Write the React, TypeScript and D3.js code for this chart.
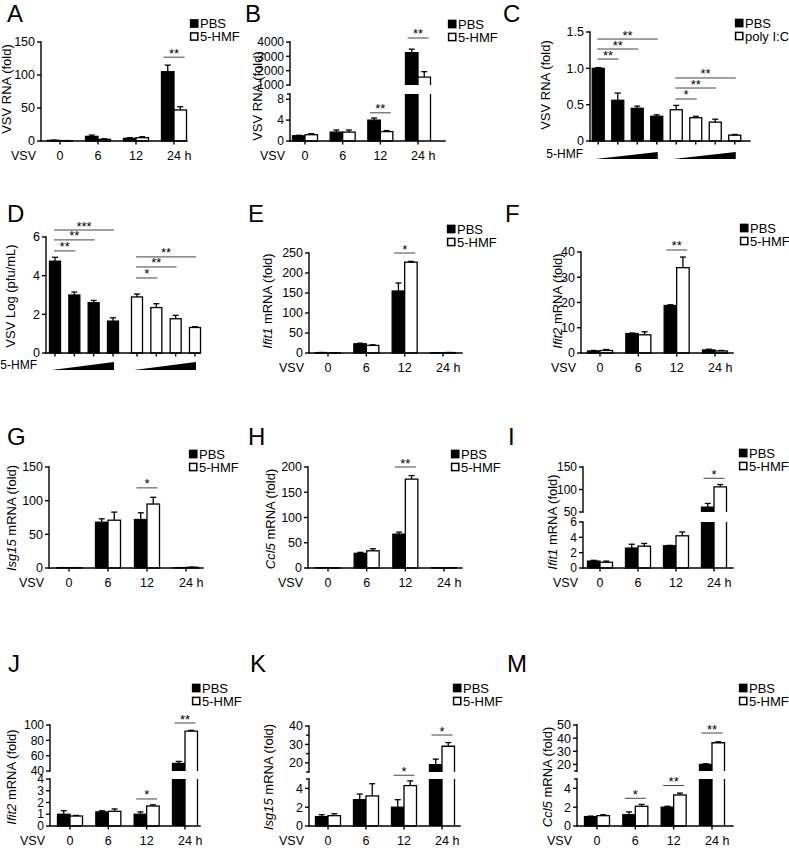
import React from "react";
import * as d3 from "d3";

// ---------------- DATA ----------------
const timeCategories = ["0", "6", "12", "24 h"];
const timeSeries = ["PBS", "5-HMF"];
const doseGroups = ["PBS", "poly I:C"];
const doseLevels = ["1", "2", "3", "4"];

// A  VSV RNA
const aPBS = [1.0, 7.0, 4.0, 105];
const aPBSErr = [0.3, 2.0, 1.0, 10];
const aHMF = [0.5, 2.5, 5.0, 47];
const aHMFErr = [0.2, 0.8, 1.5, 5];
const aTicks = [0, 50, 100, 150];

// B  VSV RNA (broken axis)
const bPBS = [1.0, 1.7, 4.0, 3250];
const bPBSErr = [0.1, 0.4, 0.4, 250];
const bHMF = [1.2, 1.7, 1.8, 1550];
const bHMFErr = [0.2, 0.4, 0.2, 380];
const bTicksLow = [0, 4, 8];
const bTicksHigh = [1000, 2000, 3000, 4000];

// C  VSV RNA dose
const cPBS = [1.0, 0.56, 0.45, 0.34];
const cPBSErr = [0.01, 0.1, 0.03, 0.02];
const cPoly = [0.43, 0.32, 0.26, 0.08];
const cPolyErr = [0.06, 0.02, 0.04, 0.01];
const cTicks = [0, 0.5, 1.0, 1.5];

// D  VSV titer dose
const dPBS = [4.75, 3.0, 2.6, 1.65];
const dPBSErr = [0.2, 0.15, 0.12, 0.17];
const dPoly = [2.9, 2.35, 1.77, 1.32];
const dPolyErr = [0.15, 0.2, 0.18, 0.04];
const dTicks = [0, 2, 4, 6];

// E  Ifit1
const ePBS = [1.0, 23, 155, 0.5];
const ePBSErr = [0.3, 1.5, 20, 0.2];
const eHMF = [0.3, 19, 227, 1.0];
const eHMFErr = [0.1, 1.5, 2, 0.3];
const eTicks = [0, 50, 100, 150, 200, 250];

// F  Ifit2
const fPBS = [0.8, 7.7, 18.8, 1.2];
const fPBSErr = [0.2, 0.2, 0.3, 0.3];
const fHMF = [1.0, 7.2, 33.8, 0.8];
const fHMFErr = [0.4, 1.2, 4.2, 0.2];
const fTicks = [0, 10, 20, 30, 40];

// G  Isg15
const gPBS = [0.5, 68, 72, 0.5];
const gPBSErr = [0.2, 5, 10, 0.2];
const gHMF = [0.5, 71, 95, 1.0];
const gHMFErr = [0.2, 12, 10, 0.3];
const gTicks = [0, 50, 100, 150];

// H  Ccl5
const hPBS = [0.5, 29, 67, 0.3];
const hPBSErr = [0.2, 2, 4, 0.1];
const hHMF = [0.2, 34, 176, 0.5];
const hHMFErr = [0.1, 4, 7, 0.2];
const hTicks = [0, 50, 100, 150, 200];

// I  Ifit1 (broken axis)
const iPBS = [0.9, 2.6, 2.9, 61];
const iPBSErr = [0.1, 0.5, 0.05, 8];
const iHMF = [0.75, 2.85, 4.2, 106];
const iHMFErr = [0.15, 0.35, 0.5, 5];
const iTicksLow = [0, 2, 4, 6];
const iTicksHigh = [50, 100, 150];

// J  Ifit2 (broken axis)
const jPBS = [1.0, 1.2, 1.0, 50];
const jPBSErr = [0.3, 0.1, 0.2, 2.5];
const jHMF = [0.85, 1.25, 1.7, 92];
const jHMFErr = [0.05, 0.2, 0.1, 1];
const jTicksLow = [0, 1, 2, 3, 4];
const jTicksHigh = [40, 60, 80, 100];

// K  Isg15 (broken axis)
const kPBS = [1.0, 2.8, 2.0, 19];
const kPBSErr = [0.2, 0.6, 0.8, 3];
const kHMF = [1.1, 3.2, 4.3, 29];
const kHMFErr = [0.2, 1.3, 0.5, 2];
const kTicksLow = [0, 2, 4];
const kTicksHigh = [20, 30, 40];

// M  Ccl5 (broken axis)
const mPBS = [1.0, 1.2, 2.0, 20];
const mPBSErr = [0.05, 0.3, 0.1, 0.5];
const mHMF = [1.1, 2.1, 3.3, 36.5];
const mHMFErr = [0.1, 0.2, 0.2, 0.7];
const mTicksLow = [0, 2, 4];
const mTicksHigh = [20, 30, 40, 50];

// ---------------- LAYOUT / RENDER ----------------
const FONT = "'Liberation Sans', Arial, Helvetica, sans-serif";
const AX = 1.4;

type Seg = {
  domain: [number, number];
  range: [number, number];
  ticks: number[];
  minor?: number[];
  fmt?: (v: number) => string;
};
type BarSpec = { x: number; w: number; v: number; e: number; black: boolean };
type SigSpec = { x1: number; x2: number; v: number; label: string };
type TitlePart = { t: string; i?: boolean };
type PanelCfg = {
  letter: string; lx: number; ly: number;
  x0: number; x1: number;
  segs: Seg[];
  tickFont: number;
  title: TitlePart[]; tx: number; ty: number;
  bars: BarSpec[];
  xTicks: number[];
  xLabels: { text: string; x: number }[];
  vsv: boolean;
  sigs: SigSpec[];
  legend?: { x: number; y: number; labels: string[] };
  wedges?: { xa: number; xb: number; base: number; h: number }[];
  wedgeLabel?: { x: number; y: number };
};

function yMapper(segs: Seg[]) {
  const scales = segs.map((s) => d3.scaleLinear().domain(s.domain).range(s.range));
  const idx = (v: number) =>
    segs.length === 1 || v <= segs[0].domain[1] || v < segs[1].domain[0] ? 0 : 1;
  return { scales, idx, y: (v: number) => scales[idx(v)](v) };
}

function timePanel(o: any): PanelCfg {
  const xs = d3.scalePoint<string>().domain(timeCategories).range([o.c0, o.c3]);
  const inner = d3.scalePoint<string>().domain(timeSeries).range([-o.bw / 2, o.bw / 2]);
  const bars: BarSpec[] = [];
  timeCategories.forEach((c, i) => {
    bars.push({ x: xs(c)! + inner("PBS")!, w: o.bw, v: o.pbs[i], e: o.pbsErr[i], black: true });
    bars.push({ x: xs(c)! + inner("5-HMF")!, w: o.bw, v: o.hmf[i], e: o.hmfErr[i], black: false });
  });
  return {
    letter: o.letter, lx: o.lx, ly: o.ly, x0: o.x0, x1: o.x1, segs: o.segs,
    tickFont: o.tickFont || 12.5,
    title: o.title, tx: o.tx, ty: o.ty, bars,
    xTicks: timeCategories.map((c) => xs(c)!),
    xLabels: timeCategories.map((c) => ({ text: c, x: xs(c)! })),
    vsv: true,
    sigs: o.sigs.map((s: any) => ({ x1: xs(s.cat)! - 10.5, x2: xs(s.cat)! + 10.5, v: s.v, label: s.label })),
    legend: { x: o.legend[0], y: o.legend[1], labels: timeSeries },
  };
}

function dosePanel(o: any): PanelCfg {
  const gx = d3.scalePoint<string>().domain(doseGroups).range(o.groups);
  const lx = d3.scalePoint<string>().domain(doseLevels).range([-o.half, o.half]);
  const cx = (g: string, l: number) => gx(g)! + lx(doseLevels[l])!;
  const bars: BarSpec[] = [];
  const xTicks: number[] = [];
  doseGroups.forEach((g, gi) => {
    doseLevels.forEach((l, li) => {
      const vals = gi === 0 ? o.pbs : o.poly;
      const errs = gi === 0 ? o.pbsErr : o.polyErr;
      bars.push({ x: cx(g, li), w: o.bw, v: vals[li], e: errs[li], black: gi === 0 });
      xTicks.push(cx(g, li));
    });
  });
  return {
    letter: o.letter, lx: o.lx, ly: o.ly, x0: o.x0, x1: o.x1, segs: o.segs,
    tickFont: o.tickFont || 12.5,
    title: o.title, tx: o.tx, ty: o.ty, bars, xTicks, xLabels: [], vsv: false,
    sigs: o.sigs.map((s: any) => ({ x1: cx(doseGroups[s.g], 0) - 1, x2: cx(doseGroups[s.g], s.to) + 1, v: s.v, label: s.label })),
    legend: o.legend ? { x: o.legend[0], y: o.legend[1], labels: doseGroups } : undefined,
    wedges: doseGroups.map((g) => ({ xa: cx(g, 0) - 3, xb: cx(g, 3) + 1, base: o.wedgeBase, h: o.wedgeH })),
    wedgeLabel: { x: o.wlx, y: o.wly },
  };
}

const ttl = (gene: string | null, rest: string): TitlePart[] =>
  gene ? [{ t: gene, i: true }, { t: rest }] : [{ t: rest }];

function buildPanels(): PanelCfg[] {
  const fmt1 = (v: number) => (v === 0 ? "0" : v.toFixed(1));
  return [
    timePanel({
      letter: "A", lx: 7, ly: 22, x0: 41, x1: 187, c0: 60, c3: 174, bw: 12.5,
      segs: [{ domain: [0, 150], range: [141, 42], ticks: aTicks }],
      title: ttl(null, "VSV RNA (fold)"), tx: 11, ty: 89,
      pbs: aPBS, pbsErr: aPBSErr, hmf: aHMF, hmfErr: aHMFErr,
      sigs: [{ cat: "24 h", v: 127, label: "**" }], legend: [190, 23.5],
    }),
    timePanel({
      letter: "B", lx: 245, ly: 22, x0: 290, x1: 445, c0: 305, c3: 418, bw: 12.5, tickFont: 12,
      segs: [
        { domain: [0, 9], range: [141, 94], ticks: bTicksLow, minor: [9] },
        { domain: [1000, 4000], range: [85, 42], ticks: bTicksHigh },
      ],
      title: ttl(null, "VSV RNA (fold)"), tx: 262, ty: 96,
      pbs: bPBS, pbsErr: bPBSErr, hmf: bHMF, hmfErr: bHMFErr,
      sigs: [{ cat: "12", v: 5.4, label: "**" }, { cat: "24 h", v: 4280, label: "**" }],
      legend: [448, 24],
    }),
    dosePanel({
      letter: "C", lx: 503, ly: 22, x0: 590, x1: 750, groups: [627.5, 705.5], half: 29.25, bw: 12,
      segs: [{ domain: [0, 1.5], range: [141, 32], ticks: cTicks, fmt: fmt1 }],
      title: ttl(null, "VSV RNA (fold)"), tx: 550, ty: 85,
      pbs: cPBS, pbsErr: cPBSErr, poly: cPoly, polyErr: cPolyErr,
      sigs: [
        { g: 0, to: 1, v: 1.128, label: "**" }, { g: 0, to: 2, v: 1.266, label: "**" }, { g: 0, to: 3, v: 1.403, label: "**" },
        { g: 1, to: 1, v: 0.578, label: "*" }, { g: 1, to: 2, v: 0.729, label: "**" }, { g: 1, to: 3, v: 0.867, label: "**" },
      ],
      legend: [735, 23], wedgeBase: 159, wedgeH: 7, wlx: 583, wly: 154,
    }),
    dosePanel({
      letter: "D", lx: 7, ly: 222, x0: 46, x1: 200, groups: [84, 166], half: 29, bw: 11,
      segs: [{ domain: [0, 6], range: [353, 237], ticks: dTicks }],
      title: ttl(null, "VSV Log (pfu/mL)"), tx: 15, ty: 296,
      pbs: dPBS, pbsErr: dPBSErr, poly: dPoly, polyErr: dPolyErr,
      sigs: [
        { g: 0, to: 1, v: 5.28, label: "**" }, { g: 0, to: 2, v: 5.85, label: "**" }, { g: 0, to: 3, v: 6.36, label: "***" },
        { g: 1, to: 1, v: 3.88, label: "*" }, { g: 1, to: 2, v: 4.45, label: "**" }, { g: 1, to: 3, v: 4.97, label: "**" },
      ],
      wedgeBase: 370, wedgeH: 8, wlx: 37, wly: 365,
    }),
    timePanel({
      letter: "E", lx: 248, ly: 222, x0: 309, x1: 462, c0: 328, c3: 443, bw: 12.5,
      segs: [{ domain: [0, 250], range: [353, 253], ticks: eTicks }],
      title: ttl("Ifit1", " mRNA (fold)"), tx: 272, ty: 301,
      pbs: ePBS, pbsErr: ePBSErr, hmf: eHMF, hmfErr: eHMFErr,
      sigs: [{ cat: "12", v: 250, label: "*" }], legend: [447, 229],
    }),
    timePanel({
      letter: "F", lx: 505, ly: 222, x0: 581, x1: 733, c0: 600, c3: 715, bw: 12.5,
      segs: [{ domain: [0, 40], range: [353, 252], ticks: fTicks }],
      title: ttl("Ifit2", " mRNA (fold)"), tx: 562, ty: 301,
      pbs: fPBS, pbsErr: fPBSErr, hmf: fHMF, hmfErr: fHMFErr,
      sigs: [{ cat: "12", v: 40.8, label: "**" }], legend: [740, 228],
    }),
    timePanel({
      letter: "G", lx: 7, ly: 445, x0: 49, x1: 203, c0: 69, c3: 186, bw: 12.5,
      segs: [{ domain: [0, 150], range: [568, 467], ticks: gTicks }],
      title: ttl("Isg15", " mRNA (fold)"), tx: 16, ty: 518,
      pbs: gPBS, pbsErr: gPBSErr, hmf: gHMF, hmfErr: gHMFErr,
      sigs: [{ cat: "12", v: 119, label: "*" }], legend: [189, 454],
    }),
    timePanel({
      letter: "H", lx: 248, ly: 445, x0: 308, x1: 462, c0: 328, c3: 444, bw: 12.5,
      segs: [{ domain: [0, 200], range: [568, 467], ticks: hTicks }],
      title: ttl("Ccl5", " mRNA (fold)"), tx: 275, ty: 519,
      pbs: hPBS, pbsErr: hPBSErr, hmf: hHMF, hmfErr: hHMFErr,
      sigs: [{ cat: "12", v: 200, label: "**" }], legend: [451, 454],
    }),
    timePanel({
      letter: "I", lx: 508, ly: 445, x0: 583, x1: 733, c0: 600, c3: 714, bw: 12.5, tickFont: 12,
      segs: [
        { domain: [0, 6], range: [568, 522], ticks: iTicksLow },
        { domain: [50, 150], range: [512, 467], ticks: iTicksHigh },
      ],
      title: ttl("Ifit1", " mRNA (fold)"), tx: 557, ty: 522,
      pbs: iPBS, pbsErr: iPBSErr, hmf: iHMF, hmfErr: iHMFErr,
      sigs: [{ cat: "24 h", v: 125, label: "*" }], legend: [739, 453],
    }),
    timePanel({
      letter: "J", lx: 8, ly: 672, x0: 50, x1: 200, c0: 70, c3: 185, bw: 12.5, tickFont: 12,
      segs: [
        { domain: [0, 4], range: [826, 779], ticks: jTicksLow },
        { domain: [40, 100], range: [771, 725], ticks: jTicksHigh },
      ],
      title: ttl("Ifit2", " mRNA (fold)"), tx: 16, ty: 777,
      pbs: jPBS, pbsErr: jPBSErr, hmf: jHMF, hmfErr: jHMFErr,
      sigs: [{ cat: "12", v: 2.3, label: "*" }, { cat: "24 h", v: 102.6, label: "**" }],
      legend: [192, 688],
    }),
    timePanel({
      letter: "K", lx: 250, ly: 672, x0: 309, x1: 460, c0: 328, c3: 442, bw: 12.5,
      segs: [
        { domain: [0, 5], range: [826, 779], ticks: kTicksLow, minor: [5] },
        { domain: [15, 40], range: [772, 726], ticks: kTicksHigh, minor: [15, 25, 35] },
      ],
      title: ttl("Isg15", " mRNA (fold)"), tx: 273, ty: 777,
      pbs: kPBS, pbsErr: kPBSErr, hmf: kHMF, hmfErr: kHMFErr,
      sigs: [{ cat: "12", v: 5.4, label: "*" }, { cat: "24 h", v: 35.1, label: "*" }],
      legend: [453, 688],
    }),
    timePanel({
      letter: "M", lx: 507, ly: 672, x0: 577, x1: 733, c0: 597, c3: 712, bw: 12.5,
      segs: [
        { domain: [0, 5], range: [826, 779], ticks: mTicksLow, minor: [5] },
        { domain: [15, 50], range: [771, 725], ticks: mTicksHigh, minor: [15] },
      ],
      title: ttl("Ccl5", " mRNA (fold)"), tx: 552, ty: 777,
      pbs: mPBS, pbsErr: mPBSErr, hmf: mHMF, hmfErr: mHMFErr,
      sigs: [
        { cat: "6", v: 2.95, label: "*" }, { cat: "12", v: 4.3, label: "**" }, { cat: "24 h", v: 43.9, label: "**" },
      ],
      legend: [739, 688],
    }),
  ];
}

function Bar({ b, ym, segs }: { b: BarSpec; ym: ReturnType<typeof yMapper>; segs: Seg[] }) {
  const base = segs[0].range[0];
  const x = b.x - b.w / 2;
  const x2 = b.x + b.w / 2;
  const sw = 1.3;
  const parts: React.ReactNode[] = [];
  const fill = b.black ? "#000" : "#fff";
  if (ym.idx(b.v) === 0) {
    const yt = ym.scales[0](b.v);
    parts.push(
      <rect key="r" x={x} y={yt} width={b.w} height={Math.max(0, base - yt)} fill={fill} stroke="#000" strokeWidth={sw} />
    );
  } else {
    const lowTop = segs[0].range[1];
    const upBot = segs[1].range[0];
    const yt = ym.scales[1](b.v);
    parts.push(<rect key="l" x={x} y={lowTop} width={b.w} height={base - lowTop} fill={fill} />);
    parts.push(<rect key="u" x={x} y={yt} width={b.w} height={upBot - yt} fill={fill} />);
    parts.push(
      <path key="lo" d={`M${x},${base}V${lowTop}M${x2},${lowTop}V${base}`} fill="none" stroke="#000" strokeWidth={sw} />
    );
    parts.push(
      <path key="uo" d={`M${x},${upBot}V${yt}H${x2}V${upBot}`} fill="none" stroke="#000" strokeWidth={sw} />
    );
  }
  if (b.e > 0) {
    const yv = ym.y(b.v);
    const ye = ym.y(b.v + b.e);
    parts.push(<line key="e" x1={b.x} x2={b.x} y1={yv} y2={ye} stroke="#000" strokeWidth={sw} />);
    parts.push(<line key="c" x1={b.x - 3} x2={b.x + 3} y1={ye} y2={ye} stroke="#000" strokeWidth={sw} />);
  }
  return <g>{parts}</g>;
}

function Panel({ p }: { p: PanelCfg }) {
  const ym = yMapper(p.segs);
  const base = p.segs[0].range[0];
  const labY = base + 15;
  return (
    <g>
      <text x={p.lx} y={p.ly} fontSize={24}>{p.letter}</text>
      {p.bars.map((b, i) => <Bar key={i} b={b} ym={ym} segs={p.segs} />)}
      {p.segs.map((s, si) => {
        const sc = ym.scales[si];
        const f = s.fmt || ((v: number) => String(v));
        return (
          <g key={si}>
            <line x1={p.x0} x2={p.x0} y1={s.range[0]} y2={s.range[1]} stroke="#000" strokeWidth={AX} strokeLinecap="square" />
            {s.ticks.map((t) => (
              <g key={t}>
                <line x1={p.x0 - 4} x2={p.x0} y1={sc(t)} y2={sc(t)} stroke="#000" strokeWidth={AX} />
                <text x={p.x0 - 6} y={sc(t)} dy="0.35em" textAnchor="end" fontSize={p.tickFont}>{f(t)}</text>
              </g>
            ))}
            {(s.minor || []).map((t) => (
              <line key={"m" + t} x1={p.x0 - 3} x2={p.x0} y1={sc(t)} y2={sc(t)} stroke="#000" strokeWidth={AX} />
            ))}
          </g>
        );
      })}
      <line x1={p.x0} x2={p.x1} y1={base} y2={base} stroke="#000" strokeWidth={AX} strokeLinecap="square" />
      {p.xTicks.map((t, i) => (
        <line key={i} x1={t} x2={t} y1={base} y2={base + 3.5} stroke="#000" strokeWidth={AX} />
      ))}
      {p.vsv && (
        <text x={p.x0 - 5} y={labY} dy="0.35em" textAnchor="end" fontSize={12.5}>VSV</text>
      )}
      {p.xLabels.map((l, i) =>
        l.text.endsWith(" h") ? (
          <text key={i} x={l.x - 7} y={labY} dy="0.35em" textAnchor="start" fontSize={12.5}>{l.text}</text>
        ) : (
          <text key={i} x={l.x} y={labY} dy="0.35em" textAnchor="middle" fontSize={12.5}>{l.text}</text>
        )
      )}
      <text transform={`translate(${p.tx},${p.ty}) rotate(-90)`} textAnchor="middle" fontSize={13}>
        {p.title.map((t, i) => (
          <tspan key={i} fontStyle={t.i ? "italic" : "normal"}>{t.t}</tspan>
        ))}
      </text>
      {p.sigs.map((s, i) => {
        const y = ym.y(s.v);
        return (
          <g key={i}>
            <line x1={s.x1} x2={s.x2} y1={y} y2={y} stroke="#444" strokeWidth={1} />
            <text x={(s.x1 + s.x2) / 2} y={y + 0.5} textAnchor="middle" fontSize={13}>{s.label}</text>
          </g>
        );
      })}
      {p.legend &&
        p.legend.labels.map((l, i) => {
          const cy = p.legend!.y + i * 13;
          return (
            <g key={l}>
              <rect x={p.legend!.x + 0.6} y={cy - 3.6} width={7.2} height={7.2}
                fill={i === 0 ? "#000" : "#fff"} stroke="#000" strokeWidth={1.5} />
              <text x={p.legend!.x + 10} y={cy} dy="0.36em" fontSize={13}>{l}</text>
            </g>
          );
        })}
      {p.wedges &&
        p.wedges.map((w, i) => (
          <path key={i} d={`M${w.xa},${w.base}L${w.xb},${w.base}L${w.xb},${w.base - w.h}Z`} fill="#000" />
        ))}
      {p.wedgeLabel && (
        <text x={p.wedgeLabel.x} y={p.wedgeLabel.y} dy="0.35em" textAnchor="end" fontSize={12}>5-HMF</text>
      )}
    </g>
  );
}

export default function App() {
  const panels = buildPanels();
  return (
    <svg width={789} height={848} style={{ position: "absolute", left: 0, top: 0, background: "#fff" }} fontFamily={FONT}>
      <rect width={789} height={848} fill="#fff" />
      {panels.map((p, i) => <Panel key={i} p={p} />)}
    </svg>
  );
}
